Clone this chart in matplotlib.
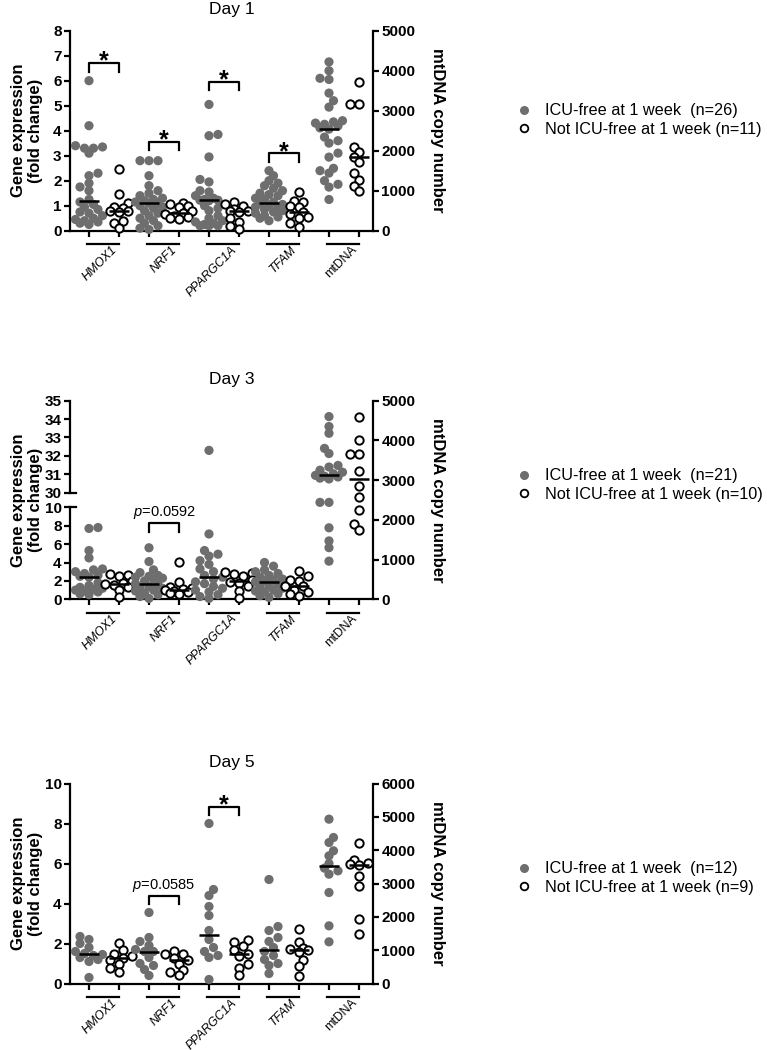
import numpy as np
import matplotlib.pyplot as plt
from matplotlib.lines import Line2D
from matplotlib import transforms

plt.rcParams['font.family'] = ['Liberation Sans', 'DejaVu Sans']
plt.rcParams['mathtext.fontset'] = 'custom'
plt.rcParams['mathtext.it'] = 'Liberation Sans:italic'
plt.rcParams['mathtext.rm'] = 'Liberation Sans'

# --- data ---
genes = ["HMOX1", "NRF1", "PPARGC1A", "TFAM"]
categories = genes + ["mtDNA"]

# Day 1: ICU-free (n=26) / not ICU-free (n=11)
d1_free_HMOX1 = [6.0, 4.2, 3.4, 3.35, 3.3, 3.3, 3.1, 2.3, 2.2, 1.9, 1.75, 1.6, 1.25, 1.15,
                 1.05, 0.95, 0.85, 0.75, 0.7, 0.6, 0.5, 0.45, 0.4, 0.35, 0.3, 0.25]
d1_not_HMOX1 = [2.45, 1.45, 1.1, 0.95, 0.9, 0.8, 0.8, 0.75, 0.4, 0.3, 0.1]
d1_free_NRF1 = [2.8, 2.8, 2.8, 2.2, 1.8, 1.6, 1.5, 1.4, 1.3, 1.25, 1.2, 1.15, 1.1, 1.1,
                1.0, 0.95, 0.9, 0.8, 0.7, 0.6, 0.5, 0.4, 0.3, 0.2, 0.1, 0.05]
d1_not_NRF1 = [1.1, 1.05, 1.0, 0.95, 0.8, 0.7, 0.65, 0.6, 0.55, 0.5, 0.45]
d1_free_PPARGC1A = [5.05, 3.85, 3.8, 2.95, 2.05, 1.95, 1.6, 1.55, 1.4, 1.3, 1.25, 1.22, 1.22,
                    1.2, 1.0, 0.9, 0.8, 0.6, 0.5, 0.4, 0.35, 0.3, 0.25, 0.2, 0.2, 0.2]
d1_not_PPARGC1A = [1.15, 1.05, 1.0, 0.85, 0.8, 0.8, 0.75, 0.5, 0.35, 0.2, 0.05]
d1_free_TFAM = [2.4, 2.2, 2.0, 1.9, 1.8, 1.7, 1.6, 1.5, 1.45, 1.4, 1.3, 1.25, 1.15, 1.1,
                1.05, 1.0, 0.95, 0.9, 0.85, 0.8, 0.75, 0.7, 0.6, 0.55, 0.5, 0.4]
d1_not_TFAM = [1.55, 1.2, 1.15, 1.0, 0.95, 0.75, 0.65, 0.55, 0.5, 0.3, 0.15]
d1_free_mtDNA = [4220, 4000, 3810, 3780, 3440, 3250, 3090, 2750, 2720, 2690, 2660, 2620, 2570,
                 2540, 2340, 2250, 2190, 1940, 1840, 1560, 1500, 1440, 1250, 1160, 1090, 780]
d1_not_mtDNA = [3720, 3160, 3160, 2090, 1970, 1840, 1720, 1440, 1280, 1130, 1000]

# Day 3: ICU-free (n=21) / not ICU-free (n=10)
d3_free_HMOX1 = [7.8, 7.7, 5.3, 4.5, 3.3, 3.2, 3.0, 2.8, 2.6, 2.5, 2.4, 1.8, 1.5, 1.3, 1.2,
                 1.1, 1.0, 0.9, 0.8, 0.6, 0.5]
d3_not_HMOX1 = [2.8, 2.6, 2.5, 2.0, 1.75, 1.65, 1.6, 1.3, 1.0, 0.2]
d3_free_NRF1 = [5.6, 4.1, 3.2, 2.9, 2.6, 2.5, 2.4, 2.3, 2.2, 2.0, 1.7, 1.6, 1.4, 1.3, 1.2,
                1.0, 0.9, 0.7, 0.5, 0.3, 0.1]
d3_not_NRF1 = [4.1, 1.9, 1.3, 1.2, 1.1, 1.0, 0.9, 0.8, 0.7, 0.6]
d3_free_PPARGC1A = [32.3, 7.1, 5.3, 4.9, 4.7, 4.2, 3.8, 3.3, 3.0, 2.6, 2.4, 2.2, 1.9, 1.7,
                    1.4, 1.2, 1.0, 0.8, 0.5, 0.3, 0.1]
d3_not_PPARGC1A = [3.0, 2.9, 2.7, 2.5, 2.1, 1.9, 1.8, 1.4, 0.9, 0.1]
d3_free_TFAM = [4.0, 3.6, 3.2, 3.0, 2.8, 2.6, 2.4, 2.2, 2.1, 2.0, 1.9, 1.7, 1.5, 1.3, 1.2,
                1.0, 0.9, 0.8, 0.6, 0.4, 0.2]
d3_not_TFAM = [3.1, 2.5, 2.1, 2.0, 1.5, 1.4, 1.0, 0.8, 0.6, 0.4]
d3_free_mtDNA = [4600, 4350, 4180, 3800, 3670, 3370, 3330, 3250, 3200, 3160, 3120, 3100,
                 3080, 3050, 3030, 2440, 2440, 1800, 1470, 1300, 960]
d3_not_mtDNA = [4600, 4010, 3670, 3670, 3220, 2860, 2570, 2250, 1890, 1750]

# Day 5: ICU-free (n=12) / not ICU-free (n=9)
d5_free_HMOX1 = [2.35, 2.2, 2.0, 1.8, 1.6, 1.5, 1.45, 1.4, 1.3, 1.2, 1.1, 0.3]
d5_not_HMOX1 = [2.05, 1.7, 1.5, 1.4, 1.3, 1.2, 1.0, 0.8, 0.6]
d5_free_NRF1 = [3.55, 2.3, 2.1, 1.9, 1.7, 1.6, 1.6, 1.3, 1.0, 0.9, 0.7, 0.4]
d5_not_NRF1 = [1.65, 1.5, 1.5, 1.3, 1.2, 1.0, 0.7, 0.6, 0.45]
d5_free_PPARGC1A = [8.0, 4.7, 4.4, 3.85, 3.4, 2.65, 2.2, 1.8, 1.6, 1.4, 1.3, 0.2]
d5_not_PPARGC1A = [2.2, 2.1, 1.9, 1.7, 1.5, 1.4, 1.0, 0.8, 0.45]
d5_free_TFAM = [5.2, 2.85, 2.65, 2.3, 2.1, 1.8, 1.6, 1.4, 1.2, 1.0, 0.9, 0.5]
d5_not_TFAM = [2.75, 2.1, 1.8, 1.75, 1.7, 1.6, 1.2, 0.9, 0.4]
d5_free_mtDNA = [4930, 4380, 4230, 3980, 3830, 3600, 3460, 3380, 3280, 2730, 1730, 1250]
d5_not_mtDNA = [4230, 3710, 3630, 3580, 3550, 3230, 2930, 1950, 1480]

# significance annotations: (gene index, bracket height, label)
d1_sig = [(0, 6.7, "*"), (1, 3.56, "*"), (2, 5.96, "*"), (3, 3.09, "*")]
d3_sig = [(1, 8.33, "$p$=0.0592")]
d5_sig = [(1, 4.4, "$p$=0.0585"), (2, 8.83, "*")]

GRAY = "#6e6e6e"
W, H = 767, 1050
fig = plt.figure(figsize=(W / 100, H / 100), dpi=100)

# broken axis (0-10, gap, 30-35) for day 3
GAP, K = 1.587, 2.0
def brk_fwd(v):
    v = np.asarray(v, float)
    return np.where(v <= 10, v, np.where(v >= 30, 10 + GAP + (v - 30) * K, 10 + (v - 10) * GAP / 20))

def brk_inv(w):
    w = np.asarray(w, float)
    return np.where(w <= 10, w, np.where(w >= 10 + GAP, 30 + (w - 10 - GAP) / K, 10 + (w - 10) * 20 / GAP))


def swarm(ax, x0, vals, diam=9.0, cap=13.5):
    # simple beeswarm: place each point at the free horizontal slot nearest the centre
    vals = np.asarray(vals, float)
    y = ax.transData.transform(np.column_stack([np.full(vals.size, x0), vals]))[:, 1]
    px_per_x = ax.transData.transform((1, 0))[0] - ax.transData.transform((0, 0))[0]
    step = diam * 0.5
    cands = [0.0]
    for k in range(1, int(cap / step) + 1):
        cands += [k * step, -k * step]
    placed = []
    off = np.zeros(vals.size)
    for n, i in enumerate(np.argsort(y, kind="stable")):
        best, best_d = 0.0, -1
        order = cands if n % 2 == 0 else [-c for c in cands]
        for c in order:
            d = min((np.hypot(c - px, y[i] - py) for px, py in placed), default=1e9)
            if d >= diam * 0.72:
                best = c
                break
            if d > best_d:
                best, best_d = c, d
        off[i] = best
        placed.append((best, y[i]))
    return x0 + off / px_per_x


def draw_panel(top, bottom, title, free, notf, ylim, yticks, rmax, n_free, n_not, sig, drop,
               legend_y, broken=False):
    ax = fig.add_axes([70 / W, 1 - bottom / H, 303 / W, (bottom - top) / H])
    if broken:
        ax.set_yscale("function", functions=(brk_fwd, brk_inv))
    ax.set_xlim(-0.633, 9.467)
    ax.set_ylim(*ylim)
    ax.set_yticks(yticks)
    axr = ax.twinx()
    axr.set_ylim(0, rmax)
    axr.set_yticks(np.arange(0, rmax + 1, 1000))

    for a in (ax, axr):
        for s in a.spines.values():
            s.set_linewidth(1.6)
        a.spines["top"].set_visible(False)
        a.tick_params(width=1.6, length=4, labelsize=11, pad=2)
        plt.setp(a.get_yticklabels(), fontweight="bold")
    ax.spines["right"].set_visible(False)
    axr.spines["left"].set_visible(False)
    axr.spines["bottom"].set_visible(False)

    ax.set_xticks(np.arange(10))
    ax.set_xticklabels([])
    ax.tick_params(axis="x", length=4)

    if broken:
        ax.spines["left"].set_bounds(0, 10)
        yt = ax.get_yaxis_transform()
        ax.plot([0, 0], [30, 35], transform=yt, color="k", lw=1.6, clip_on=False)
        for yb in (10, 30):
            ax.plot([0, 0.02], [yb, yb], transform=yt, color="k", lw=1.6, clip_on=False)

    # points
    for i in range(5):
        a = ax if i < 4 else axr
        for j, (vals, filled) in enumerate(((free[i], True), (notf[i], False))):
            x0 = 2 * i + j
            xs = swarm(a, x0, vals)
            if filled:
                a.scatter(xs, vals, s=44, color=GRAY, edgecolors="none", clip_on=False, zorder=3)
            else:
                a.scatter(xs, vals, s=36, facecolors="white", edgecolors="black",
                          linewidths=1.4, clip_on=False, zorder=3)
            a.hlines(np.median(vals), x0 - 0.33, x0 + 0.33, color="black", lw=1.8, zorder=4)

    # group underline bars and rotated category labels
    bar_tr = transforms.offset_copy(ax.get_xaxis_transform(), fig=fig, y=-13.3, units="dots")
    for i, name in enumerate(categories):
        ax.plot([2 * i - 0.05, 2 * i + 1.0], [0, 0], transform=bar_tr, color="black",
                lw=1.6, clip_on=False)
        ax.annotate(name, xy=(2 * i + 0.5, 0), xycoords=("data", "axes fraction"),
                    xytext=(5, -9.5), textcoords="offset points", rotation=45,
                    ha="right", va="top", rotation_mode="anchor", fontsize=8.8,
                    style="italic" if name in genes else "normal")

    # significance brackets
    for g, yb, lab in sig:
        x1, x2 = 2 * g, 2 * g + 1
        ax.plot([x1, x1, x2, x2], [yb - drop, yb, yb, yb - drop], color="black", lw=1.6,
                clip_on=False, zorder=5)
        if lab == "*":
            ax.annotate(lab, xy=(x1 + 0.5, yb), xytext=(0, 1), textcoords="offset points",
                        ha="center", va="center", fontsize=18, fontweight="bold")
        else:
            ax.annotate(lab, xy=(x1 + 0.5, yb), xytext=(0, 7.5), textcoords="offset points",
                        ha="center", va="center", fontsize=10.5)

    yc = 1 - (top + bottom) / 2 / H
    fig.text(232 / W, 1 - (top - 21) / H, title, ha="center", va="center", fontsize=12.5)
    fig.text(27 / W, yc, "Gene expression\n(fold change)", rotation=90, ha="center",
             va="center", fontsize=12, fontweight="bold", linespacing=1.1)
    fig.text(437 / W, yc, "mtDNA copy number", rotation=270, ha="center", va="center",
             fontsize=12, fontweight="bold")

    handles = [Line2D([], [], ls="none", marker="o", markersize=6.5, color=GRAY, markeredgecolor="none"),
               Line2D([], [], ls="none", marker="o", markersize=5.5, markerfacecolor="white",
                      markeredgecolor="black", markeredgewidth=1.3)]
    labels = [f"ICU-free at 1 week  (n={n_free})", f"Not ICU-free at 1 week (n={n_not})"]
    fig.legend(handles, labels, loc="center left", bbox_to_anchor=(516 / W, 1 - legend_y / H),
               frameon=False, fontsize=11.7, handlelength=0.95, handletextpad=0.85,
               labelspacing=0.2, borderpad=0, borderaxespad=0)


draw_panel(30.7, 230.7, "Day 1",
           [d1_free_HMOX1, d1_free_NRF1, d1_free_PPARGC1A, d1_free_TFAM, d1_free_mtDNA],
           [d1_not_HMOX1, d1_not_NRF1, d1_not_PPARGC1A, d1_not_TFAM, d1_not_mtDNA],
           (0, 8), np.arange(0, 9, 1), 5000, 26, 11, d1_sig, 0.35, 120)

draw_panel(400.7, 599.3, "Day 3",
           [d3_free_HMOX1, d3_free_NRF1, d3_free_PPARGC1A, d3_free_TFAM, d3_free_mtDNA],
           [d3_not_HMOX1, d3_not_NRF1, d3_not_PPARGC1A, d3_not_TFAM, d3_not_mtDNA],
           (0, 35), [0, 2, 4, 6, 8, 10, 30, 31, 32, 33, 34, 35], 5000, 21, 10, d3_sig, 1.05, 485,
           broken=True)

draw_panel(783.5, 983.5, "Day 5",
           [d5_free_HMOX1, d5_free_NRF1, d5_free_PPARGC1A, d5_free_TFAM, d5_free_mtDNA],
           [d5_not_HMOX1, d5_not_NRF1, d5_not_PPARGC1A, d5_not_TFAM, d5_not_mtDNA],
           (0, 10), np.arange(0, 11, 2), 6000, 12, 9, d5_sig, 0.42, 878)

fig.savefig("out.png", dpi=100)
